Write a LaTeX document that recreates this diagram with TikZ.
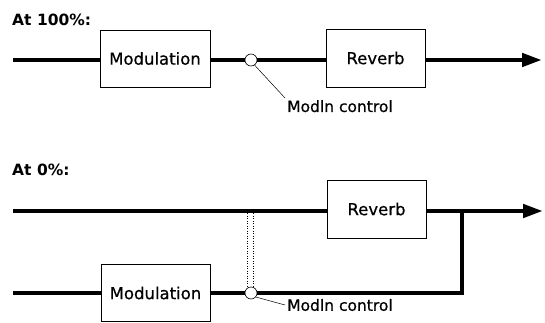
\documentclass[tikz,border=0pt]{standalone}
\usepackage{fontspec}
\setmainfont{DejaVu Sans}
\newfontfamily\medfont{DejaVu Sans}[FakeBold=0.6]
\usetikzlibrary{arrows.meta}
\begin{document}
\begin{tikzpicture}[x=1pt,y=-1pt,
  blk/.style={draw, line width=0.6pt, inner sep=0pt, font=\medfont\fontsize{16.5}{20}\selectfont},
  sig/.style={line width=4.5pt},
  sigarrow/.style={sig, -{Triangle[length=20pt,width=13pt]}},
  knob/.style={circle, draw, fill=white, line width=0.6pt, minimum size=12pt, inner sep=0pt},
  leader/.style={line width=0.5pt},
  lbl/.style={font=\medfont\fontsize{15.5}{19}\selectfont, inner sep=2pt},
  ttl/.style={font=\fontsize{15.5}{18}\selectfont\bfseries, inner sep=0pt, anchor=west}]
\useasboundingbox (0,0) rectangle (545,323);
% titles
\node[ttl] (t1) at (12,20) {At 100\%:};
\node[ttl] (t2) at (12,170) {At 0\%:};
% top diagram
\node[blk, minimum width=110pt, minimum height=57pt] (m1) at (155,58.5) {Modulation};
\node[blk, minimum width=99pt, minimum height=58pt] (r1) at (375.5,58) {Reverb};
\node[knob] (c1) at (251,60) {};
\coordinate (in1) at (13,60);
\coordinate (out1) at (542,60);
\draw[sig] (in1) -- (m1.west |- in1);
\draw[sig] (m1.east |- in1) -- (c1.west);
\draw[sig] (c1.east) -- (r1.west |- in1);
\draw[sigarrow] (r1.east |- in1) -- (out1);
\node[lbl, anchor=north west] (l1) at (285,98) {Modln control};
\draw[leader] (c1.-55) -- (l1.north west);
% bottom diagram
\node[blk, minimum width=99pt, minimum height=58pt] (r2) at (376.5,209) {Reverb};
\node[blk, minimum width=109pt, minimum height=57pt] (m2) at (155.5,293) {Modulation};
\node[knob] (c2) at (251,293) {};
\coordinate (in2) at (13,211);
\coordinate (out2) at (543,211);
\coordinate (in3) at (13,293);
\coordinate (j) at (462,211);
\draw[sig] (in2) -- (r2.west |- in2);
\draw[sigarrow] (r2.east |- in2) -- (out2);
\draw[sig] (in3) -- (m2.west |- in3);
\draw[sig] (m2.east |- in3) -- (c2.west);
\draw[sig] (c2.east) -| (j);
\coordinate (d1) at (247.5,213);
\coordinate (d2) at (253,213);
\draw[line width=0.5pt, dotted] (d1) -- (d1 |- c2.north);
\draw[line width=0.5pt, dotted] (d2) -- (d2 |- c2.north);
\node[lbl, anchor=west] (l2) at (285,305) {Modln control};
\draw[leader] (c2.-40) -- (l2.west);
\end{tikzpicture}
\end{document}
